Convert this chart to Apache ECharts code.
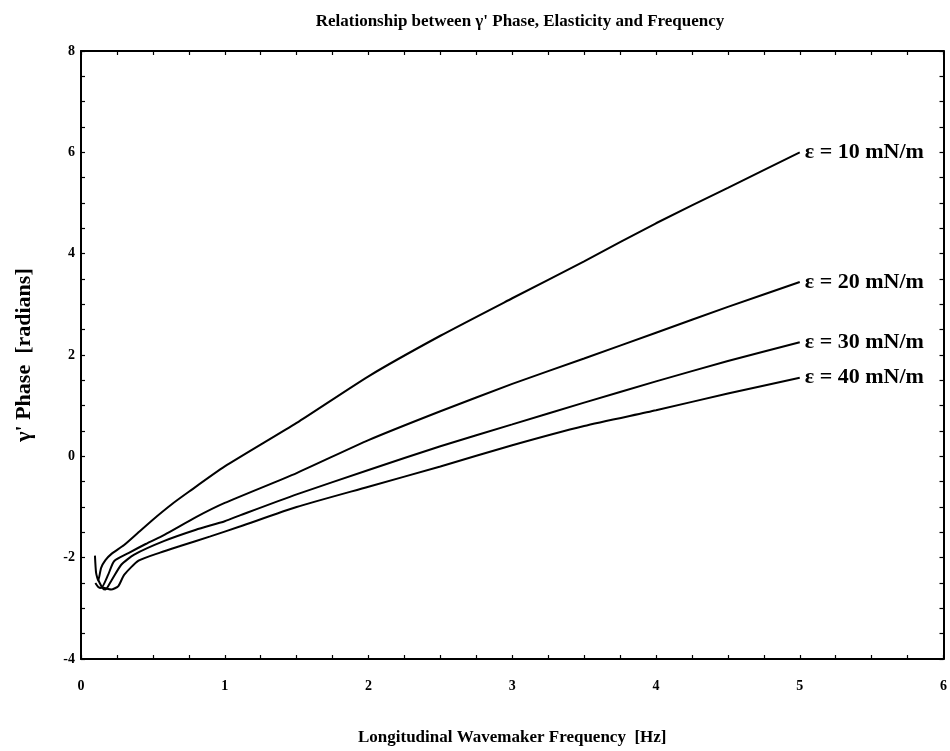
<!DOCTYPE html>
<html><head><meta charset="utf-8">
<script src="https://cdn.jsdelivr.net/npm/echarts@6/dist/echarts.min.js"></script>
<style>html,body{margin:0;padding:0;background:#fff}#c{width:950px;height:751px}</style>
</head><body><div id="c"></div>
<script>
const titleText = "Relationship between \u03b3' Phase, Elasticity and Frequency";
const xName = "Longitudinal Wavemaker Frequency  [Hz]";
const yName = "\u03b3' Phase  [radians]";
const seriesNames = ["\u03b5 = 10 mN/m", "\u03b5 = 20 mN/m", "\u03b5 = 30 mN/m", "\u03b5 = 40 mN/m"];
const e10 = [[0.097,-1.96],[0.105,-2.3],[0.12,-2.45],[0.14,-2.2],[0.17,-2.05],[0.21,-1.93],[0.3,-1.75],[0.4,-1.5],[0.5,-1.25],[0.625,-0.96],[0.75,-0.7],[1,-0.2],[1.5,0.66],[2,1.58],[2.5,2.38],[3,3.12],[3.5,3.85],[4,4.6],[4.5,5.3],[5,6.0]];
const e20 = [[0.1,-2.5],[0.12,-2.58],[0.14,-2.6],[0.19,-2.33],[0.23,-2.07],[0.33,-1.91],[0.45,-1.73],[0.58,-1.55],[0.8,-1.2],[1,-0.92],[1.5,-0.33],[2,0.32],[2.5,0.89],[3,1.43],[3.5,1.93],[4,2.44],[4.5,2.95],[5,3.44]];
const e30 = [[0.12,-2.44],[0.15,-2.6],[0.17,-2.63],[0.21,-2.46],[0.28,-2.14],[0.37,-1.94],[0.58,-1.67],[0.8,-1.45],[1,-1.28],[1.11,-1.16],[1.5,-0.75],[2,-0.27],[2.5,0.2],[3,0.63],[3.5,1.06],[4,1.48],[4.5,1.88],[5,2.25]];
const e40 = [[0.15,-2.59],[0.21,-2.63],[0.26,-2.56],[0.3,-2.34],[0.4,-2.06],[0.55,-1.9],[0.69,-1.77],[0.9,-1.58],[1.11,-1.38],[1.5,-1.0],[2,-0.6],[2.5,-0.2],[3,0.22],[3.5,0.6],[4,0.91],[4.5,1.24],[5,1.55]];
const allData = [e10, e20, e30, e40];

const font = 'Liberation Serif';
const chart = echarts.init(document.getElementById('c'));
const tickStyle = {color:'#000', width:1.2};
function xAx(pos, show){
  return {type:'value', position:pos, min:0, max:6, interval:1,
    axisLine:{show:true, onZero:false, lineStyle:{color:'#000', width:2}},
    axisTick:{show:true, inside:true, length:4, lineStyle:tickStyle},
    minorTick:{show:true, splitNumber:4, length:4, lineStyle:tickStyle},
    splitLine:{show:false}, minorSplitLine:{show:false},
    axisLabel:{show:show, color:'#000', fontFamily:font, fontWeight:'bold', fontSize:14, margin:20},
    name: show? xName : '', nameLocation:'middle', nameGap:70,
    nameTextStyle:{color:'#000', fontFamily:font, fontWeight:'bold', fontSize:17}};
}
function yAx(pos, show){
  return {type:'value', position:pos, min:-4, max:8, interval:2,
    axisLine:{show:true, onZero:false, lineStyle:{color:'#000', width:2}},
    axisTick:{show:true, inside:true, length:4, lineStyle:tickStyle},
    minorTick:{show:true, splitNumber:4, length:4, lineStyle:tickStyle},
    splitLine:{show:false}, minorSplitLine:{show:false},
    axisLabel:{show:show, color:'#000', fontFamily:font, fontWeight:'bold', fontSize:14, margin:6},
    name: show? yName : '', nameLocation:'middle', nameGap:46, nameRotate:90,
    nameTextStyle:{color:'#000', fontFamily:font, fontWeight:'bold', fontSize:22}};
}
const series = allData.map((d,i)=>({
  name: seriesNames[i], type:'line', data:d, xAxisIndex:0, yAxisIndex:0,
  showSymbol:false, smooth:0.2, lineStyle:{color:'#000', width:2}, silent:true,
  endLabel:{show:true, formatter: seriesNames[i], color:'#000', fontFamily:font, fontWeight:'bold', fontSize:22, distance:5}
}));
chart.setOption({
  animation:false,
  backgroundColor:'#fff',
  title:{text:titleText, left:515, top:8, textAlign:'center',
    textStyle:{color:'#000', fontFamily:font, fontWeight:'bold', fontSize:17}},
  grid:{left:81, right:3, top:51, bottom:89},
  xAxis:[xAx('bottom', true), xAx('top', false)],
  yAxis:[yAx('left', true), yAx('right', false)],
  series: series
});
</script></body></html>
